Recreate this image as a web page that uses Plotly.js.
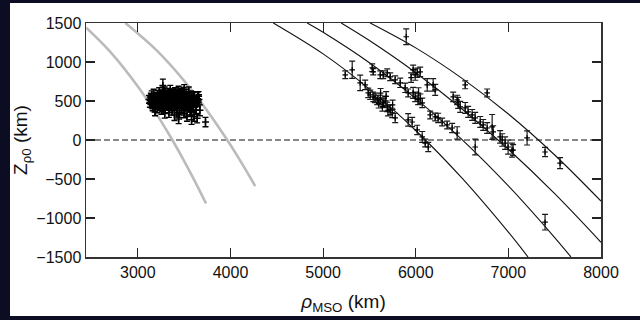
<!DOCTYPE html>
<html><head><meta charset="utf-8">
<script src="https://cdn.plot.ly/plotly-3.0.1.min.js"></script>
<style>
html,body{margin:0;padding:0;background:#0c0c22;width:640px;height:320px;overflow:hidden}
#chart{position:absolute;left:10px;top:3px;width:630px;height:313px;background:#fff}
</style></head><body><div id="chart"></div>
<script>
// Model curves
const curve1Rho = [4462, 5000, 5500, 6000, 6500, 7000, 7212];
const curve1Z   = [1500, 1104, 653, 122, -490, -1182, -1500];
const curve2Rho = [4828, 5000, 5500, 6000, 6500, 7000, 7500, 7676];
const curve2Z   = [1500, 1381, 990, 531, 5, -589, -1251, -1500];
const curve3Rho = [5195, 5500, 6000, 6500, 7000, 7500, 8000];
const curve3Z   = [1500, 1275, 863, 398, -119, -688, -1311];
const curve4Rho = [5508, 6000, 6500, 7000, 7500, 8000];
const curve4Z   = [1500, 1181, 790, 333, -192, -784];
const grayARho = [2442, 2700, 3000, 3135, 3250, 3372, 3500, 3620, 3736];
const grayAZ   = [1440, 1133, 687, 454, 242, 0, -270, -539, -814];
const grayBRho = [2865, 3200, 3500, 3750, 3965, 4100, 4267];
const grayBZ   = [1500, 1152, 759, 373, 0, -255, -591];
const zeroRho = [2440, 8000];
const zeroZ = [0, 0];

// Observations: right group
const obsRRho = [5897,5239,5314,5400,5454,5530,5541,5617,5649,5692,5724,5778,5832,5886,5918,5994,5487,5508,5541,5584,
 5617,5649,5692,5724,5746,5778,5918,5961,6016,6070,6102,6135,5972,5994,6016,6048,5972,6026,6070,6124,
 6188,6210,6156,6210,6242,6285,6339,6393,6447,6404,6447,6458,6480,6534,6566,6609,6642,6696,6728,6771,
 6825,6836,6911,6933,6997,7040,6534,6771,7202,7396,7558,6642,7396,6965,7051,5560,5600,5640,5670,5700,
 5750,5680,5620,5950,6030,6050];
const obsRZ = [1324,836,900,733,707,926,874,836,836,862,810,772,733,669,604,553,604,579,553,514,
 514,476,424,386,347,283,257,231,129,39,-39,-90,900,836,862,874,604,514,476,707,
 707,643,321,296,283,231,193,154,90,553,514,476,424,411,360,321,283,231,193,154,
 167,103,39,0,-90,-129,707,604,26,-154,-296,-90,-1054,-39,-129,540,470,430,500,380,
 450,560,600,800,600,530];
const obsRErr = [100,50,110,100,60,50,40,50,50,50,50,50,60,60,50,60,60,60,60,60,
 60,60,60,60,60,60,80,60,60,70,50,60,60,70,60,60,70,60,60,80,
 80,70,50,50,60,50,50,60,80,60,60,70,70,70,70,70,70,70,70,70,
 160,80,80,80,90,90,50,50,90,60,70,100,100,80,70,60,60,60,60,70,
 60,60,60,60,70,60];

// Observations: left cluster
const obsLRho = [3120,3130,3140,3150,3155,3165,3170,3180,3185,3190,3200,3205,3210,3215,3225,3230,3235,3240,3250,3255,
 3260,3265,3270,3275,3280,3290,3295,3300,3305,3310,3320,3325,3330,3335,3340,3350,3355,3360,3365,3370,
 3375,3380,3390,3395,3400,3405,3410,3420,3425,3430,3440,3445,3450,3455,3460,3470,3475,3480,3490,3495,
 3500,3505,3510,3520,3525,3530,3540,3545,3550,3560,3565,3570,3575,3580,3590,3600,3605,3610,3620,3640,
 3650,3655,3660,3670,3730,3185,3290,3150,3440,
 3135,3145,3160,3175,3195,3208,3220,3228,3245,3248,3262,3268,3278,3285,3298,3312,3318,3328,3338,3345,
 3352,3362,3368,3378,3385,3392,3402,3412,3418,3428,3435,3448,3458,3465,3472,3485,3492,3498,3512,3518,
 3528,3535,3548,3555,3562,3572,3585,3595,3612,3625,3635,3645,3270,3345,3215,3160,3420,3500,3580,3630];
const obsLZ = [520,480,550,500,460,530,590,470,420,510,560,450,400,500,540,610,470,430,520,380,
 580,490,700,450,540,620,400,500,470,560,430,600,520,350,480,640,420,550,500,380,
 590,460,530,320,610,440,490,570,400,520,630,460,350,540,500,420,600,480,560,380,
 650,520,440,590,470,300,550,410,620,500,380,450,570,260,520,420,300,560,480,280,
 480,560,520,380,230,360,340,580,270,
 510,470,540,500,470,530,460,500,560,470,420,540,500,460,580,450,520,470,560,510,
 460,600,440,520,570,480,530,430,600,470,560,510,590,460,540,500,620,460,570,500,
 540,460,520,560,440,520,480,560,500,440,520,560,640,590,580,430,350,340,360,380];
const obsLErr = [50,60,50,50,60,50,60,50,60,50,50,60,50,50,60,60,50,50,60,50,
 60,50,80,50,60,60,50,50,60,60,50,60,50,60,50,60,50,60,50,60,
 60,50,60,70,60,50,60,60,50,60,60,50,60,60,50,60,60,50,60,60,
 60,50,60,60,50,60,60,50,60,50,60,50,60,60,50,60,60,60,60,60,
 50,60,60,70,60,50,60,50,60,
 55,55,55,55,55,55,55,55,55,55,55,55,55,55,55,55,55,55,55,55,
 55,55,55,55,55,55,55,55,55,55,55,55,55,55,55,55,55,55,55,55,
 55,55,55,55,55,55,55,55,55,55,55,55,55,55,55,55,55,55,55,55];

const lineCurve = {color:'#111', width:1.1};
const grayLine = {color:'#bbbbbb', width:2.6};
const traces = [
  {x:zeroRho, y:zeroZ, mode:'lines', line:{color:'#111', width:1, dash:'6px,3px'}, hoverinfo:'skip'},
  {x:grayARho, y:grayAZ, mode:'lines', line:Object.assign({shape:'spline'}, grayLine)},
  {x:grayBRho, y:grayBZ, mode:'lines', line:Object.assign({shape:'spline'}, grayLine)},
  {x:curve1Rho, y:curve1Z, mode:'lines', line:Object.assign({shape:'spline'}, lineCurve)},
  {x:curve2Rho, y:curve2Z, mode:'lines', line:Object.assign({shape:'spline'}, lineCurve)},
  {x:curve3Rho, y:curve3Z, mode:'lines', line:Object.assign({shape:'spline'}, lineCurve)},
  {x:curve4Rho, y:curve4Z, mode:'lines', line:Object.assign({shape:'spline'}, lineCurve)},
  {x:obsRRho, y:obsRZ, mode:'markers', marker:{symbol:'cross-thin', size:4, color:'#000', line:{width:1.2, color:'#000'}},
   error_y:{type:'data', array:obsRErr, visible:true, color:'#1a1a1a', thickness:1.2, width:3}},
  {x:obsLRho, y:obsLZ, mode:'markers', marker:{symbol:'cross-thin', size:5, color:'#000', line:{width:1.5, color:'#000'}},
   error_y:{type:'data', array:obsLErr, visible:true, color:'#000', thickness:1.4, width:3}}
];
const font = {family:'Liberation Sans, Arial, sans-serif', size:16, color:'#111'};
const layout = {
  width:630, height:313, showlegend:false,
  margin:{l:76, r:39, t:20, b:59},
  paper_bgcolor:'#fff', plot_bgcolor:'#fff', font:font,
  xaxis:{range:[2440,8000], tickvals:[3000,4000,5000,6000,7000,8000], ticks:'inside', ticklen:9, tickwidth:1.2,
    tickcolor:'#222', showline:true, linecolor:'#333', linewidth:1.5, mirror:'ticks', showgrid:false, zeroline:false,
    title:{text:'<i>ρ</i><sub>MSO</sub> (km)', font:{size:19, color:'#111'}, standoff:15}},
  yaxis:{range:[-1500,1500], tickvals:[-1500,-1000,-500,0,500,1000,1500], ticks:'inside', ticklen:9, tickwidth:1.2,
    tickcolor:'#222', showline:true, linecolor:'#333', linewidth:1.5, mirror:'ticks', showgrid:false, zeroline:false,
    title:{text:'Z<sub>ρ0</sub> (km)', font:{size:19, color:'#111'}, standoff:4}}
};
Plotly.newPlot('chart', traces, layout, {displayModeBar:false, staticPlot:true});
</script></body></html>
